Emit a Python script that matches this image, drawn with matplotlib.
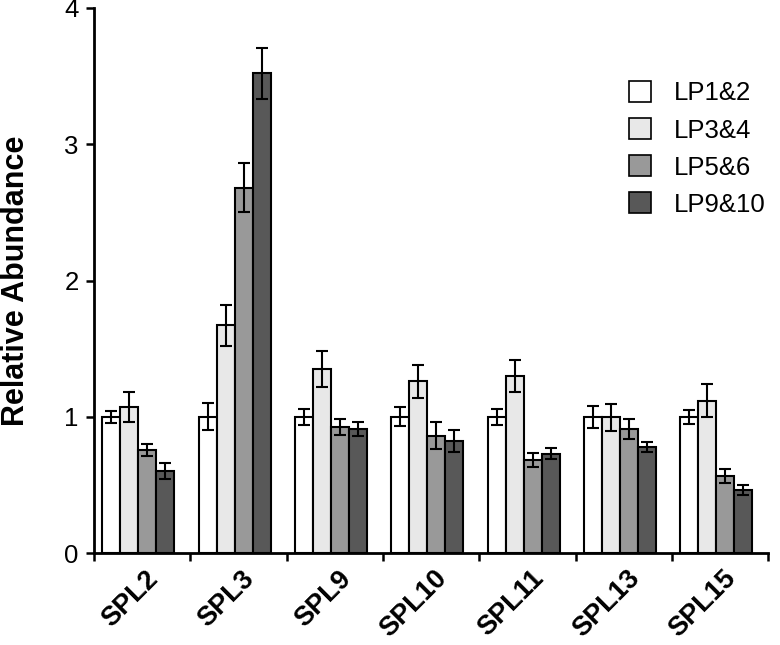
import numpy as np
import matplotlib
matplotlib.use("Agg")
import matplotlib.pyplot as plt
import matplotlib.transforms as mtransforms
from matplotlib.patches import Patch

plt.rcParams['font.family'] = ['Liberation Sans', 'DejaVu Sans']

genes = ["SPL2", "SPL3", "SPL9", "SPL10", "SPL11", "SPL13", "SPL15"]
series = ["LP1&2", "LP3&4", "LP5&6", "LP9&10"]

lp12 = [1.00, 1.00, 1.00, 1.00, 1.00, 1.00, 1.00]
lp34 = [1.07, 1.67, 1.35, 1.26, 1.30, 0.995, 1.117]
lp56 = [0.755, 2.68, 0.927, 0.86, 0.685, 0.91, 0.563]
lp910 = [0.60, 3.52, 0.912, 0.82, 0.73, 0.78, 0.463]

err12 = [0.045, 0.10, 0.06, 0.07, 0.06, 0.08, 0.05]
err34 = [0.11, 0.15, 0.13, 0.12, 0.12, 0.10, 0.12]
err56 = [0.045, 0.18, 0.06, 0.10, 0.05, 0.075, 0.05]
err910 = [0.06, 0.19, 0.05, 0.08, 0.04, 0.035, 0.035]

values = [lp12, lp34, lp56, lp910]
errors = [err12, err34, err56, err910]
colors = ["#ffffff", "#e8e8e8", "#999999", "#585858"]

fig = plt.figure(figsize=(7.8, 6.45), dpi=100)
ax = fig.add_axes([0.1205, 0.1426, 0.8645, 0.845])

x = np.arange(len(genes))
w = 0.187
for i in range(4):
    pos = x - 0.04 + (i - 1.5) * w
    ax.bar(pos, values[i], w, color=colors[i], edgecolor="black", linewidth=1.5,
           yerr=errors[i], capsize=4,
           error_kw=dict(elinewidth=1.5, capthick=1.5, ecolor="black"))

ax.set_xlim(-0.5, len(genes) - 0.5)
ax.set_ylim(0, 4)
ax.set_yticks([0, 1, 2, 3, 4])
ax.tick_params(axis="y", labelsize=18.5, width=1.8, length=6, direction="out", pad=5)

ax.set_xticks(x)
ax.set_xticklabels(genes, rotation=45, ha="right", va="top", rotation_mode="anchor",
                   fontsize=19.5, fontweight="bold")
ax.tick_params(axis="x", which="major", length=0, pad=9)
shift = mtransforms.ScaledTranslation(0.03, 0, fig.dpi_scale_trans)
for lab in ax.get_xticklabels():
    lab.set_transform(lab.get_transform() + shift)
ax.set_xticks(np.arange(len(genes) + 1) - 0.5, minor=True)
ax.tick_params(axis="x", which="minor", length=6, width=1.8, direction="out")

for s in ["top", "right"]:
    ax.spines[s].set_visible(False)
for s in ["left", "bottom"]:
    ax.spines[s].set_linewidth(2)

ax.set_ylabel("Relative Abundance", fontsize=22, fontweight="bold")
ax.yaxis.set_label_coords(-0.094, 0.5)

handles = [Patch(facecolor=c, edgecolor="black", linewidth=1.2) for c in colors]
ax.legend(handles, series, loc="upper left", bbox_to_anchor=(0.806, 0.874),
          bbox_transform=fig.transFigure, borderaxespad=0, borderpad=0,
          frameon=False, fontsize=18.5, handlelength=0.86, handleheight=0.86,
          handletextpad=0.9, labelspacing=0.5)

fig.savefig("out.png", dpi=100)
